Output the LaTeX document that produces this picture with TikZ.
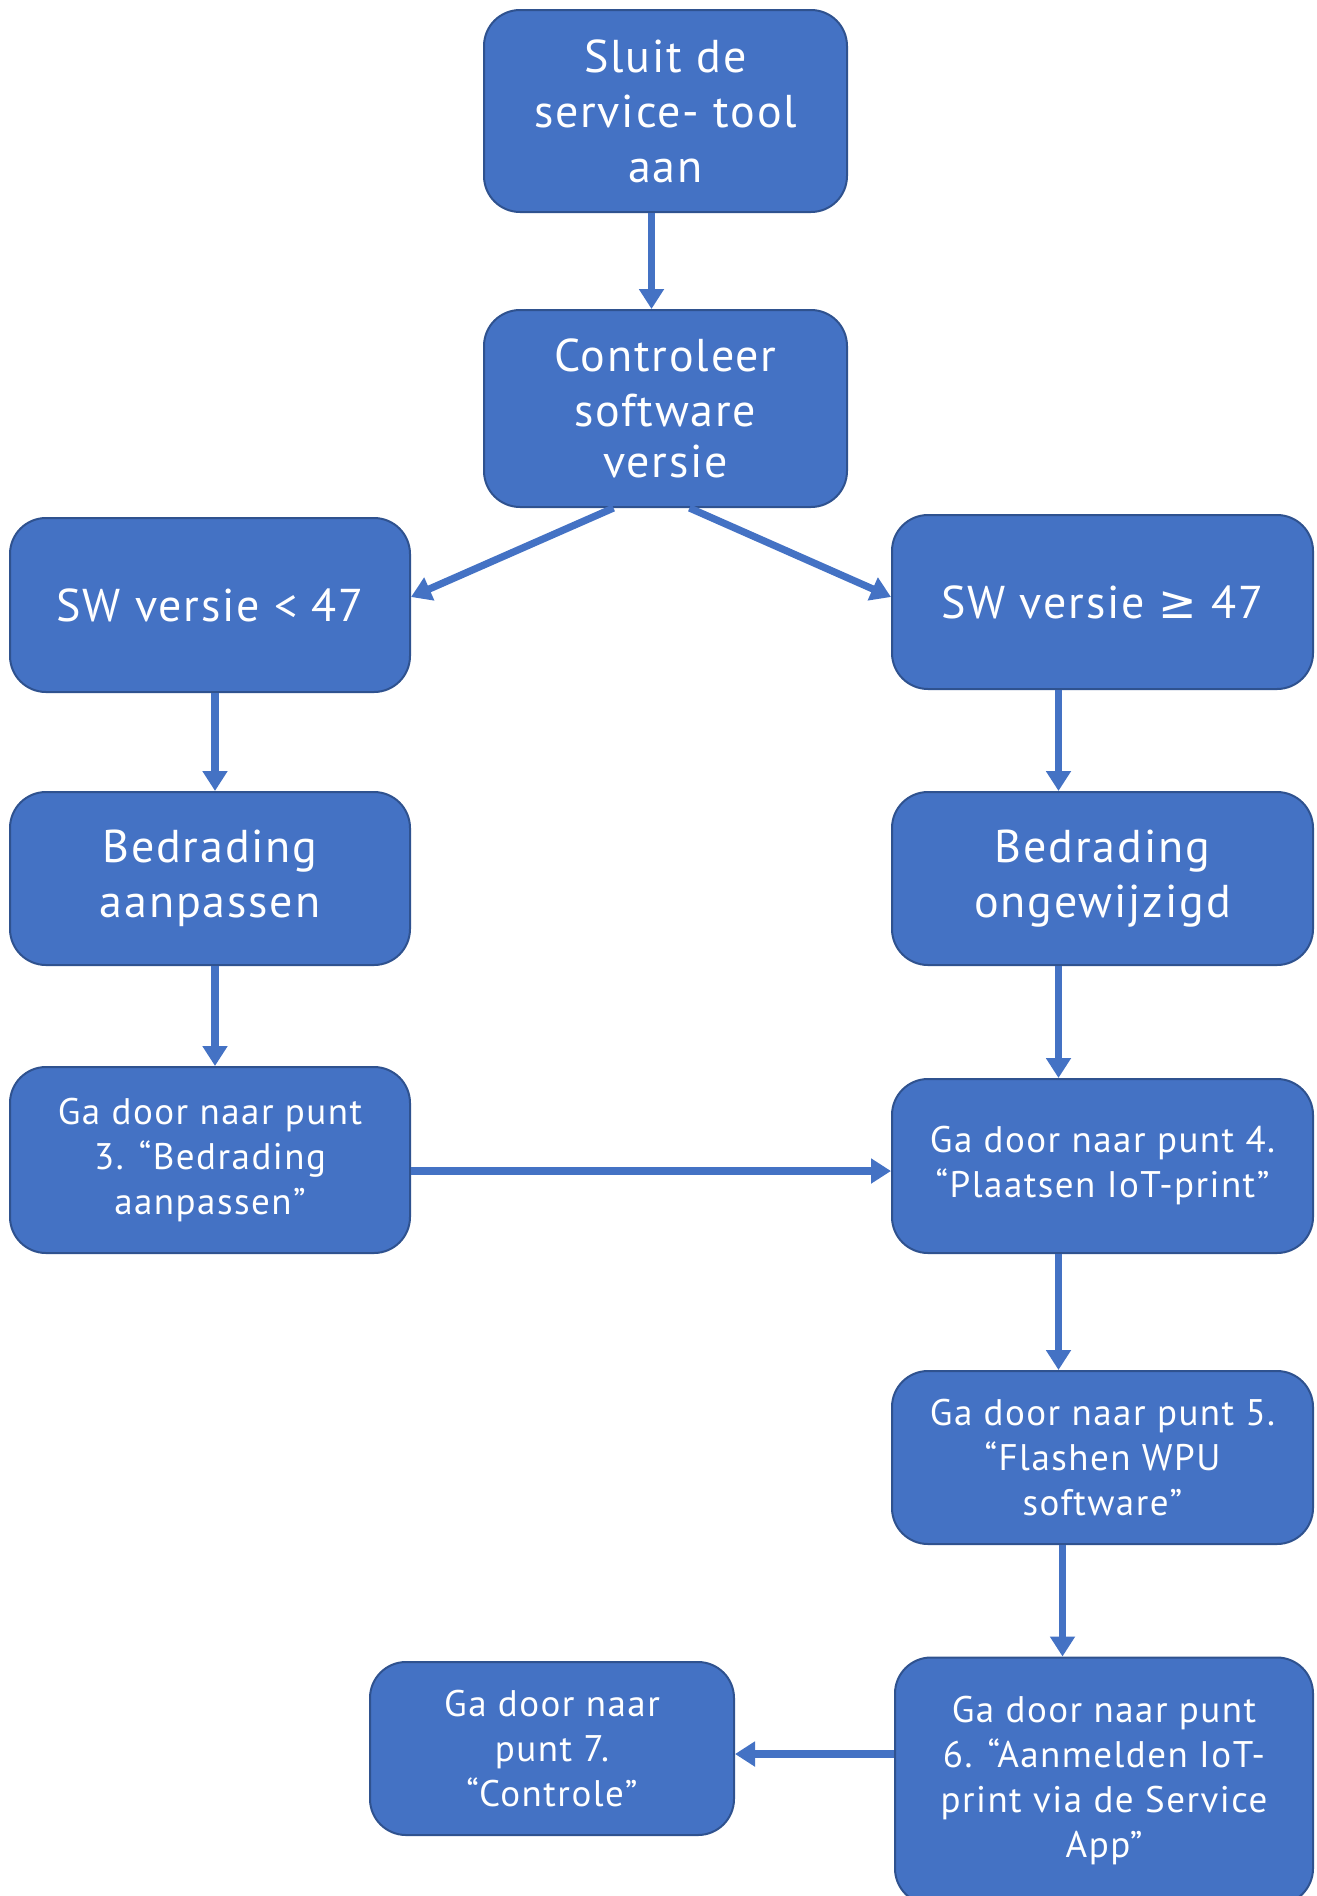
\documentclass[tikz,border=0pt]{standalone}
\usepackage{fontspec}
\setmainfont{PT Sans}[LetterSpace=4]
\newfontfamily\symfont{DejaVu Sans}
\usetikzlibrary{arrows.meta}
\definecolor{boxblue}{HTML}{4472C4}
\definecolor{boxedge}{HTML}{2F528F}

\begin{document}
\begin{tikzpicture}[x=0.5pt,y=-0.5pt,
  box/.style={draw=boxedge,line width=1pt,fill=boxblue,rounded corners=18pt,text=white,align=center,inner sep=0pt},
  big/.style={font=\fontsize{23}{27.5}\selectfont},
  small/.style={font=\fontsize{18.5}{22.5}\selectfont},
  flow/.style={draw=boxblue,line width=3.6pt,-{Triangle[width=12pt,length=10pt]}}]
\useasboundingbox (0,0) rectangle (1317,1896);
\node [box,big,minimum width=181.5pt,minimum height=101pt] (sluit) at (665.5,111) {Sluit de\\service- tool\\aan};
\node [box,big,minimum width=181.5pt,minimum height=98.5pt] (controleer) at (665.5,408.5) {Controleer\\software\\[-2pt]versie};
\node [box,big,minimum width=200pt,minimum height=87pt] (oud) at (210,605) {SW versie < 47};
\node [box,big,minimum width=210.5pt,minimum height=87pt] (nieuw) at (1102.5,602) {SW versie {\symfont ≥} 47};
\node [box,big,minimum width=200pt,minimum height=86.5pt] (aanpassen) at (210,878.5) {Bedrading\\aanpassen};
\node [box,big,minimum width=210.5pt,minimum height=86.5pt] (ongewijzigd) at (1102.5,878.5) {Bedrading\\ongewijzigd};
\node [box,small,minimum width=200pt,minimum height=93pt] (punt3) at (210,1160) {Ga door naar punt\\3. “Bedrading\\aanpassen”};
\node [box,small,minimum width=210.5pt,minimum height=87pt] (punt4) at (1102.5,1166) {Ga door naar punt 4.\\“Plaatsen IoT-print”};
\node [box,small,minimum width=210.5pt,minimum height=86.5pt] (punt5) at (1102.5,1457.5) {Ga door naar punt 5.\\“Flashen WPU\\software”};
\node [box,small,minimum width=209pt,minimum height=123.5pt] (punt6) at (1104,1781) {Ga door naar punt\\6. “Aanmelden IoT-\\print via de Service\\App”};
\node [box,small,minimum width=182pt,minimum height=86.5pt] (punt7) at (552,1748.5) {Ga door naar\\punt 7.\\“Controle”};
\draw [flow] ([xshift=-7pt]sluit.south) -- ([xshift=-7pt]controleer.north);
\draw [flow] ([xshift=-26pt]controleer.south) -- ([yshift=4pt]oud.east);
\draw [flow] ([xshift=12pt]controleer.south) -- ([yshift=2.5pt]nieuw.west);
\draw [flow] ([xshift=2.5pt]oud.south) -- ([xshift=2.5pt]aanpassen.north);
\draw [flow] ([xshift=-22pt]nieuw.south) -- ([xshift=-22pt]ongewijzigd.north);
\draw [flow] ([xshift=2.5pt]aanpassen.south) -- ([xshift=2.5pt]punt3.north);
\draw [flow] ([xshift=-22pt]ongewijzigd.south) -- ([xshift=-22pt]punt4.north);
\draw [flow] ([yshift=-5.5pt]punt3.east) -- ([yshift=-5.5pt]punt3.east -| punt4.west);
\draw [flow] ([xshift=-22pt]punt4.south) -- ([xshift=-22pt]punt5.north);
\draw [flow] ([xshift=-20pt]punt5.south) -- ([xshift=-20pt]punt5.south |- punt6.north);
\draw [flow] ([yshift=13.5pt]punt6.west) -- ([yshift=13.5pt]punt6.west -| punt7.east);
\end{tikzpicture}
\end{document}
